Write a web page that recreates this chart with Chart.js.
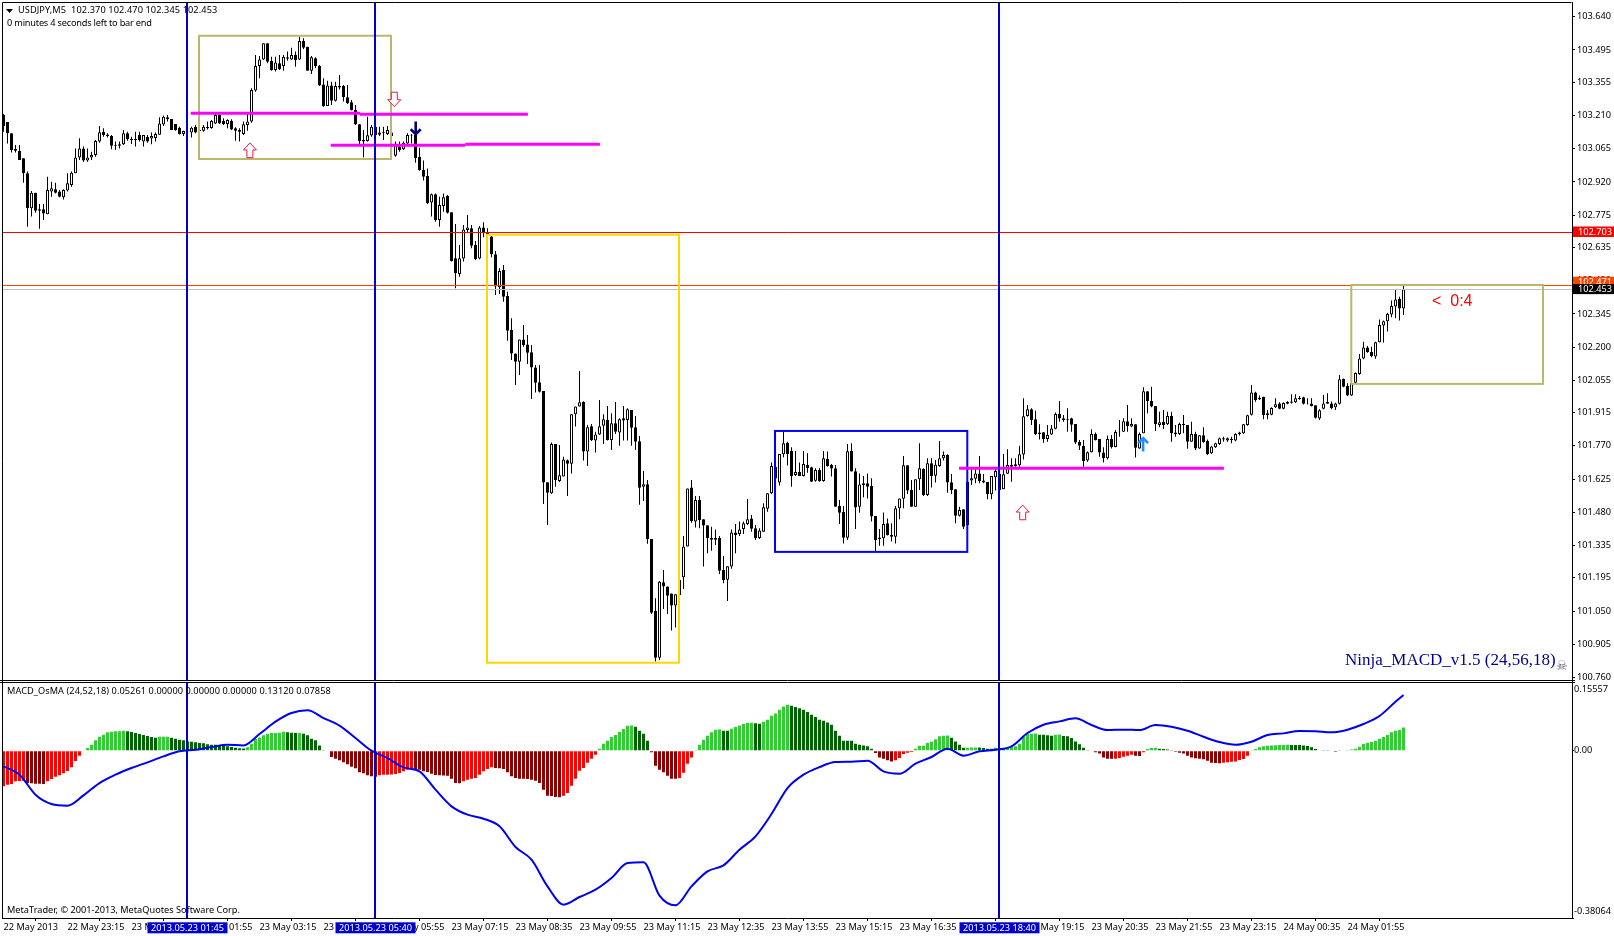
<!DOCTYPE html>
<html><head><meta charset="utf-8"><title>USDJPY,M5</title>
<script src="https://cdn.jsdelivr.net/npm/chart.js@4"></script>
<style>html,body{margin:0;padding:0;background:#fff}canvas{display:block}</style></head>
<body><canvas id="c" width="1614" height="936"></canvas>
<script>
const timeLabels=["22 May 2013","22 May 23:15","23 May 00:35","23 May 01:55","23 May 03:15","23 May 04:35","23 May 05:55","23 May 07:15","23 May 08:35","23 May 09:55","23 May 11:15","23 May 12:35","23 May 13:55","23 May 15:15","23 May 16:35","23 May 17:55","23 May 19:15","23 May 20:35","23 May 21:55","23 May 23:15","24 May 00:35","24 May 01:55"];
const priceTicks=[103.640,103.495,103.355,103.210,103.065,102.920,102.775,102.635,102.490,102.345,102.200,102.055,101.915,101.770,101.625,101.480,101.335,101.195,101.050,100.905,100.760];
const macdTicks=[0.15557,0,-0.38064];
const highs=[103.216,103.181,103.132,103.081,103.081,103.023,102.965,102.881,102.873,102.824,102.824,102.943,102.921,102.917,102.885,102.888,102.958,102.965,103.066,103.110,103.074,103.066,103.052,103.103,103.164,103.154,103.132,103.125,103.096,103.096,103.146,103.139,103.117,103.139,103.139,103.125,103.125,103.135,103.135,103.202,103.209,103.212,103.194,103.172,103.161,103.143,103.146,103.161,103.168,103.161,103.168,103.183,103.190,103.219,103.219,103.197,103.193,103.193,103.158,103.154,103.183,103.219,103.328,103.473,103.469,103.524,103.524,103.466,103.466,103.473,103.473,103.488,103.505,103.488,103.553,103.546,103.509,103.469,103.463,103.430,103.372,103.361,103.357,103.357,103.386,103.342,103.342,103.277,103.255,103.172,103.146,103.204,103.168,103.164,103.161,103.161,103.164,103.139,103.096,103.096,103.096,103.132,103.129,103.139,103.069,103.013,102.979,102.870,102.870,102.856,102.870,102.863,102.788,102.737,102.645,102.732,102.776,102.732,102.663,102.728,102.744,102.718,102.684,102.619,102.544,102.558,102.442,102.326,102.173,102.234,102.297,102.253,102.210,102.122,102.122,102.009,101.611,101.785,101.778,101.774,101.723,101.711,101.908,101.942,102.096,101.964,101.861,101.865,101.832,101.970,101.908,101.944,101.912,101.961,101.890,101.944,101.934,101.926,101.900,101.813,101.661,101.621,101.364,101.106,101.181,101.229,101.157,101.127,101.123,101.200,101.377,101.584,101.621,101.552,101.552,101.450,101.424,101.418,101.406,101.377,101.290,101.245,101.406,101.430,101.440,101.440,101.539,101.469,101.425,101.411,101.520,101.563,101.697,101.694,101.735,101.832,101.788,101.764,101.748,101.697,101.748,101.738,101.679,101.672,101.672,101.748,101.745,101.691,101.687,101.534,101.508,101.778,101.781,101.672,101.650,101.639,101.650,101.629,101.464,101.408,101.480,101.454,101.433,101.508,101.541,101.726,101.685,101.621,101.624,101.781,101.672,101.716,101.716,101.708,101.791,101.745,101.733,101.647,101.581,101.505,101.494,101.621,101.672,101.672,101.726,101.647,101.613,101.639,101.672,101.665,101.735,101.755,101.716,101.716,101.770,101.977,101.948,101.934,101.923,101.864,101.830,101.861,101.861,101.915,101.966,101.905,101.934,101.893,101.865,101.796,101.796,101.745,101.842,101.828,101.800,101.764,101.815,101.817,101.839,101.883,101.890,101.948,101.890,101.864,101.828,102.025,102.008,102.028,101.944,101.919,101.926,101.919,101.919,101.861,101.871,101.905,101.861,101.875,101.832,101.817,101.851,101.798,101.770,101.784,101.806,101.810,101.806,101.810,101.825,101.832,101.865,101.906,102.035,102.006,101.989,101.984,101.926,101.938,101.977,101.960,101.960,101.964,101.995,101.995,101.987,101.984,101.977,101.977,101.947,101.929,101.992,101.999,101.963,101.958,102.079,102.064,102.043,102.045,102.090,102.170,102.224,102.205,102.202,102.224,102.321,102.316,102.350,102.403,102.452,102.420,102.467];
const lows=[103.139,103.088,103.048,103.048,103.016,102.917,102.725,102.769,102.786,102.716,102.754,102.779,102.856,102.870,102.853,102.844,102.878,102.899,102.958,103.016,103.008,103.008,103.016,103.030,103.091,103.117,103.114,103.062,103.059,103.066,103.081,103.100,103.085,103.074,103.096,103.074,103.091,103.084,103.096,103.126,103.164,103.183,103.146,103.143,103.127,103.120,103.117,103.114,103.132,103.132,103.139,103.149,103.152,103.172,103.172,103.168,103.154,103.146,103.100,103.096,103.125,103.143,103.178,103.313,103.372,103.451,103.437,103.405,103.401,103.408,103.405,103.448,103.451,103.422,103.451,103.498,103.405,103.390,103.415,103.338,103.248,103.251,103.255,103.270,103.323,103.270,103.260,103.231,103.168,103.085,103.027,103.096,103.117,103.120,103.120,103.103,103.125,103.059,103.030,103.052,103.059,103.085,103.088,103.004,102.969,102.926,102.824,102.769,102.747,102.725,102.790,102.783,102.573,102.457,102.507,102.573,102.696,102.631,102.580,102.583,102.679,102.689,102.592,102.427,102.432,102.398,102.228,102.144,102.035,102.079,102.202,102.127,101.974,102.003,102.003,101.517,101.425,101.560,101.592,101.613,101.636,101.552,101.650,101.854,101.941,101.706,101.682,101.791,101.741,101.817,101.778,101.793,101.752,101.822,101.770,101.793,101.793,101.770,101.752,101.513,101.530,101.343,101.037,100.830,100.837,101.059,101.037,100.965,100.979,101.120,101.146,101.331,101.435,101.414,101.411,101.244,101.302,101.313,101.338,101.212,101.171,101.094,101.234,101.302,101.377,101.386,101.425,101.396,101.360,101.364,101.396,101.483,101.560,101.600,101.597,101.720,101.684,101.592,101.639,101.639,101.636,101.653,101.614,101.614,101.614,101.614,101.679,101.636,101.505,101.430,101.345,101.360,101.658,101.408,101.479,101.546,101.541,101.440,101.309,101.335,101.335,101.379,101.353,101.345,101.450,101.498,101.560,101.505,101.505,101.578,101.552,101.552,101.589,101.610,101.679,101.706,101.566,101.560,101.433,101.462,101.408,101.422,101.600,101.607,101.607,101.607,101.537,101.537,101.575,101.571,101.581,101.649,101.614,101.679,101.679,101.711,101.897,101.861,101.817,101.798,101.784,101.788,101.817,101.842,101.875,101.875,101.832,101.832,101.778,101.752,101.679,101.701,101.741,101.793,101.723,101.697,101.711,101.759,101.764,101.810,101.830,101.832,101.851,101.719,101.757,101.825,101.912,101.938,101.835,101.851,101.843,101.861,101.788,101.810,101.817,101.825,101.757,101.788,101.752,101.757,101.784,101.730,101.735,101.761,101.774,101.788,101.788,101.781,101.790,101.815,101.822,101.858,101.902,101.962,101.970,101.886,101.886,101.903,101.935,101.929,101.929,101.951,101.955,101.957,101.971,101.950,101.950,101.941,101.889,101.883,101.929,101.953,101.929,101.926,101.950,102.025,101.987,101.987,102.043,102.080,102.147,102.176,102.156,102.150,102.220,102.220,102.268,102.330,102.326,102.316,102.340];
const opens=[103.212,103.181,103.132,103.064,103.056,103.023,102.958,102.805,102.873,102.801,102.801,102.779,102.878,102.888,102.878,102.853,102.883,102.907,102.958,103.027,103.066,103.013,103.027,103.037,103.096,103.139,103.127,103.120,103.081,103.084,103.084,103.132,103.107,103.103,103.126,103.096,103.117,103.109,103.111,103.126,103.170,103.202,103.194,103.172,103.156,103.129,103.139,103.135,103.159,103.146,103.143,103.154,103.155,103.175,103.212,103.187,103.172,103.187,103.154,103.146,103.129,103.168,103.183,103.318,103.425,103.454,103.524,103.447,103.408,103.437,103.425,103.463,103.454,103.473,103.454,103.534,103.509,103.405,103.459,103.425,103.345,103.251,103.340,103.274,103.338,103.338,103.289,103.267,103.233,103.171,103.103,103.098,103.122,103.161,103.126,103.136,103.129,103.135,103.034,103.074,103.062,103.088,103.125,103.125,103.030,102.972,102.946,102.830,102.866,102.754,102.815,102.859,102.788,102.587,102.519,102.586,102.711,102.718,102.645,102.586,102.722,102.699,102.682,102.605,102.461,102.536,102.423,102.275,102.173,102.137,102.234,102.212,102.178,102.112,102.047,102.009,101.611,101.563,101.778,101.617,101.636,101.707,101.692,101.908,101.941,101.961,101.745,101.855,101.793,101.820,101.858,101.883,101.796,101.868,101.828,101.890,101.883,101.926,101.851,101.790,101.592,101.603,101.364,101.051,100.847,101.176,101.157,101.127,101.074,101.120,101.197,101.331,101.589,101.440,101.534,101.450,101.424,101.369,101.369,101.369,101.229,101.187,101.244,101.393,101.386,101.408,101.430,101.454,101.411,101.369,101.396,101.496,101.563,101.679,101.610,101.733,101.784,101.748,101.643,101.656,101.639,101.687,101.677,101.618,101.665,101.617,101.713,101.687,101.672,101.508,101.482,101.370,101.748,101.659,101.505,101.607,101.607,101.595,101.464,101.364,101.367,101.433,101.382,101.374,101.498,101.540,101.685,101.578,101.505,101.624,101.669,101.556,101.694,101.640,101.682,101.716,101.730,101.611,101.581,101.465,101.494,101.614,101.619,101.627,101.650,101.619,101.613,101.559,101.633,101.578,101.581,101.649,101.687,101.690,101.685,101.732,101.900,101.929,101.886,101.828,101.829,101.800,101.819,101.845,101.909,101.890,101.887,101.890,101.865,101.787,101.770,101.706,101.742,101.822,101.800,101.741,101.716,101.800,101.765,101.829,101.832,101.877,101.854,101.864,101.759,101.825,102.008,101.965,101.944,101.861,101.875,101.864,101.900,101.828,101.822,101.865,101.861,101.788,101.822,101.758,101.816,101.791,101.738,101.764,101.778,101.803,101.793,101.800,101.793,101.828,101.825,101.861,101.906,102.003,101.980,101.984,101.912,101.906,101.938,101.955,101.932,101.954,101.958,101.960,101.980,101.982,101.955,101.955,101.947,101.889,101.932,101.961,101.955,101.938,101.953,102.061,102.031,101.989,102.045,102.083,102.151,102.199,102.179,102.159,102.221,102.295,102.313,102.342,102.377,102.410,102.369];
const closes=[103.164,103.132,103.059,103.056,103.016,102.958,102.805,102.873,102.795,102.795,102.783,102.885,102.892,102.873,102.856,102.885,102.914,102.960,103.027,103.066,103.013,103.027,103.037,103.098,103.136,103.125,103.120,103.078,103.078,103.078,103.132,103.106,103.103,103.107,103.103,103.125,103.096,103.120,103.129,103.175,103.204,103.193,103.146,103.146,103.129,103.142,103.136,103.156,103.135,103.142,103.161,103.159,103.186,103.212,103.175,103.172,103.190,103.149,103.143,103.139,103.171,103.183,103.321,103.425,103.454,103.524,103.444,103.408,103.440,103.411,103.466,103.457,103.473,103.451,103.534,103.505,103.405,103.463,103.425,103.340,103.251,103.340,103.274,103.338,103.332,103.289,103.263,103.233,103.171,103.098,103.096,103.123,103.161,103.125,103.135,103.132,103.146,103.120,103.081,103.059,103.091,103.125,103.122,103.023,102.972,102.943,102.827,102.866,102.754,102.820,102.853,102.786,102.576,102.522,102.587,102.713,102.722,102.642,102.583,102.722,102.696,102.689,102.605,102.464,102.532,102.420,102.272,102.173,102.137,102.234,102.210,102.176,102.111,102.045,102.006,101.610,101.566,101.778,101.621,101.642,101.711,101.692,101.908,101.942,101.960,101.745,101.851,101.796,101.820,101.855,101.886,101.796,101.868,101.832,101.886,101.881,101.929,101.849,101.788,101.588,101.603,101.364,101.043,100.847,101.178,101.157,101.117,101.074,101.123,101.186,101.331,101.584,101.443,101.534,101.447,101.423,101.369,101.361,101.361,101.226,101.186,101.245,101.393,101.382,101.406,101.433,101.450,101.409,101.369,101.401,101.502,101.563,101.682,101.628,101.735,101.781,101.733,101.639,101.656,101.639,101.691,101.672,101.614,101.665,101.617,101.716,101.682,101.671,101.505,101.479,101.370,101.746,101.658,101.501,101.602,101.600,101.592,101.462,101.360,101.371,101.430,101.382,101.374,101.498,101.541,101.685,101.575,101.505,101.624,101.672,101.556,101.694,101.639,101.688,101.716,101.730,101.610,101.578,101.465,101.491,101.418,101.425,101.629,101.650,101.617,101.610,101.560,101.639,101.661,101.648,101.646,101.687,101.679,101.682,101.733,101.899,101.929,101.883,101.822,101.822,101.800,101.817,101.846,101.909,101.889,101.883,101.884,101.862,101.785,101.770,101.704,101.742,101.822,101.796,101.741,101.716,101.800,101.764,101.830,101.832,101.877,101.857,101.865,101.762,101.822,102.008,101.965,101.941,101.864,101.873,101.861,101.900,101.825,101.822,101.865,101.861,101.788,101.822,101.759,101.816,101.787,101.735,101.767,101.781,101.803,101.798,101.803,101.796,101.822,101.822,101.864,101.903,102.003,101.970,101.973,101.905,101.903,101.935,101.951,101.932,101.957,101.961,101.963,101.977,101.974,101.953,101.953,101.944,101.892,101.925,101.955,101.954,101.935,101.955,102.060,102.028,101.989,102.043,102.088,102.151,102.199,102.179,102.162,102.221,102.297,102.313,102.345,102.379,102.408,102.369,102.452];
const macdHist=[-0.0811,-0.0773,-0.0758,-0.0698,-0.0690,-0.0685,-0.0735,-0.0743,-0.0751,-0.0754,-0.0757,-0.0698,-0.0644,-0.0592,-0.0561,-0.0515,-0.0462,-0.0379,-0.0235,-0.0114,0.0008,0.0061,0.0136,0.0235,0.0318,0.0364,0.0417,0.0432,0.0440,0.0441,0.0455,0.0440,0.0424,0.0402,0.0379,0.0356,0.0333,0.0311,0.0296,0.0318,0.0319,0.0320,0.0296,0.0273,0.0250,0.0235,0.0212,0.0205,0.0190,0.0174,0.0167,0.0144,0.0136,0.0135,0.0121,0.0114,0.0099,0.0083,0.0068,0.0053,0.0052,0.0076,0.0159,0.0265,0.0303,0.0349,0.0379,0.0402,0.0403,0.0409,0.0432,0.0417,0.0409,0.0402,0.0402,0.0387,0.0349,0.0273,0.0235,0.0121,0.0015,-0.0015,-0.0144,-0.0182,-0.0220,-0.0265,-0.0311,-0.0364,-0.0402,-0.0493,-0.0515,-0.0561,-0.0584,-0.0590,-0.0561,-0.0546,-0.0545,-0.0544,-0.0531,-0.0508,-0.0470,-0.0432,-0.0409,-0.0417,-0.0432,-0.0470,-0.0485,-0.0523,-0.0553,-0.0561,-0.0565,-0.0569,-0.0637,-0.0735,-0.0743,-0.0697,-0.0659,-0.0637,-0.0622,-0.0546,-0.0470,-0.0417,-0.0379,-0.0394,-0.0398,-0.0417,-0.0493,-0.0584,-0.0622,-0.0637,-0.0640,-0.0644,-0.0659,-0.0682,-0.0735,-0.0887,-0.1023,-0.1031,-0.1054,-0.1061,-0.1023,-0.0963,-0.0796,-0.0637,-0.0455,-0.0394,-0.0273,-0.0182,-0.0091,0.0045,0.0159,0.0227,0.0311,0.0356,0.0424,0.0493,0.0569,0.0572,0.0546,0.0455,0.0387,0.0227,-0.0038,-0.0341,-0.0432,-0.0493,-0.0569,-0.0637,-0.0640,-0.0622,-0.0500,-0.0296,-0.0152,0.0015,0.0136,0.0250,0.0341,0.0417,0.0478,0.0481,0.0455,0.0451,0.0500,0.0538,0.0576,0.0607,0.0629,0.0637,0.0622,0.0614,0.0660,0.0705,0.0796,0.0849,0.0932,0.1008,0.1046,0.1023,0.0993,0.0963,0.0932,0.0879,0.0819,0.0766,0.0705,0.0682,0.0644,0.0591,0.0455,0.0341,0.0228,0.0227,0.0226,0.0159,0.0136,0.0121,0.0099,0.0045,-0.0053,-0.0152,-0.0182,-0.0220,-0.0243,-0.0220,-0.0167,-0.0076,-0.0045,-0.0030,0.0045,0.0114,0.0115,0.0174,0.0205,0.0258,0.0326,0.0341,0.0343,0.0296,0.0212,0.0136,0.0068,0.0069,0.0070,0.0071,0.0070,0.0061,0.0046,0.0045,0.0068,0.0046,0.0045,0.0061,0.0091,0.0099,0.0159,0.0326,0.0387,0.0388,0.0394,0.0364,0.0360,0.0349,0.0341,0.0364,0.0371,0.0334,0.0326,0.0288,0.0212,0.0144,0.0068,0.0004,-0.0015,-0.0038,-0.0061,-0.0152,-0.0182,-0.0186,-0.0182,-0.0167,-0.0136,-0.0114,-0.0091,-0.0114,-0.0118,-0.0038,0.0038,0.0061,0.0068,0.0046,0.0038,0.0030,0.0004,-0.0023,-0.0046,-0.0061,-0.0114,-0.0152,-0.0174,-0.0182,-0.0197,-0.0227,-0.0273,-0.0281,-0.0284,-0.0277,-0.0265,-0.0250,-0.0246,-0.0212,-0.0190,-0.0114,0.0015,0.0038,0.0076,0.0099,0.0114,0.0121,0.0125,0.0129,0.0131,0.0133,0.0132,0.0131,0.0130,0.0121,0.0106,0.0076,0.0038,0.0008,0.0007,0.0004,-0.0015,-0.0023,0.0004,0.0008,0.0015,0.0030,0.0046,0.0091,0.0152,0.0182,0.0197,0.0227,0.0273,0.0311,0.0356,0.0417,0.0455,0.0470,0.0526];
const macdLine=[-0.0356,-0.0546,-0.1001,-0.1213,-0.1251,-0.1016,-0.0736,-0.0546,-0.0394,-0.0265,-0.0129,-0.0015,0.0023,0.0083,0.0136,0.0121,0.0379,0.0660,0.0857,0.0918,0.0743,0.0569,0.0288,0,-0.0167,-0.0379,-0.0470,-0.0887,-0.1266,-0.1456,-0.1547,-0.1721,-0.2191,-0.2480,-0.3086,-0.3503,-0.3329,-0.3162,-0.2897,-0.2555,-0.2540,-0.3298,-0.3518,-0.3086,-0.2745,-0.2608,-0.2252,-0.1949,-0.1441,-0.0849,-0.0546,-0.0372,-0.0258,-0.0250,-0.0227,-0.0470,-0.0523,-0.0296,-0.0144,0.0045,-0.0114,-0.0015,0.0023,0.0099,0.0402,0.0591,0.0667,0.0736,0.0584,0.0470,0.0478,0.0470,0.0584,0.0546,0.0455,0.0318,0.0197,0.0136,0.0205,0.0356,0.0394,0.0447,0.0440,0.0417,0.0478,0.0607,0.0789,0.1115,0.1266];
const timeMarkBars=[46,93,249];
const timeMarkTexts=["2013.05.23 01:45","2013.05.23 05:40","2013.05.23 18:40"];
const COL={up:'#ffffff',down:'#000000',lime:'#32CD32',dgreen:'#006400',red:'#FF0000',dred:'#8B0000',blue:'#0000CD',line:'#0000F0',khaki:'#BDB76B',gold:'#FFD700',box:'#0000FF',mag:'#FF00FF',arrow:'#E6194B',navy:'#000080',dodger:'#1E90FF'};
const FONT='"Noto Sans"';
const FS=9.2;
const bars=highs.map((_,i)=>i);
const histColors=macdHist.map((v,i)=>{const p=i?macdHist[i-1]:-1;return v>=0?(v>=p?COL.lime:COL.dgreen):(v>p?COL.red:COL.dred);});
const lastBar=bars[bars.length-1];
const linePts=macdLine.map((y,k)=>({x:Math.min(k*4,lastBar),y}));
const noPad=s=>{s.paddingTop=0;s.paddingBottom=0;s.paddingLeft=0;s.paddingRight=0;};

const annotate={id:'annotate',afterDatasetsDraw(ch){
  const c=ch.ctx,X=v=>ch.scales.x.getPixelForValue(v),Y=v=>ch.scales.price.getPixelForValue(v),a=ch.chartArea;
  c.save();
  const hl=(p,col,w)=>{c.strokeStyle=col;c.lineWidth=w;c.beginPath();c.moveTo(a.left,Math.round(Y(p))+.5);c.lineTo(a.right,Math.round(Y(p))+.5);c.stroke();};
  hl(102.453,'#C0C0C0',1);hl(102.471,'#FF4500',1);hl(102.703,'#FF0000',1);
  const box=(b0,b1,p1,p0,col)=>{c.strokeStyle=col;c.lineWidth=2;c.strokeRect(X(b0),Y(p1),X(b1)-X(b0),Y(p0)-Y(p1));};
  box(48.875,96.875,103.557,103.020,COL.khaki);
  box(120.875,168.875,102.690,100.825,COL.gold);
  box(192.875,240.95,101.835,101.308,COL.box);
  box(336.95,384.875,102.471,102.040,COL.khaki);
  const seg=(b0,b1,p)=>{c.strokeStyle=COL.mag;c.lineWidth=3;c.beginPath();c.moveTo(X(b0),Y(p));c.lineTo(X(b1),Y(p));c.stroke();};
  seg(46.8,89.125,103.219);seg(89.125,131.1,103.215);seg(81.8,115.45,103.080);seg(115.45,149.1,103.084);seg(238.875,305.1,101.672);
  const hollow=(b,base,tip)=>{const x=X(b),y0=Y(base),y1=Y(tip),d=y0>y1?1:-1,hh=7*d;c.fillStyle='#fff';c.strokeStyle=COL.arrow;c.lineWidth=1;c.beginPath();c.moveTo(x-3,y0);c.lineTo(x-3,y1+hh);c.lineTo(x-6.5,y1+hh);c.lineTo(x,y1);c.lineTo(x+6.5,y1+hh);c.lineTo(x+3,y1+hh);c.lineTo(x+3,y0);c.closePath();c.fill();c.stroke();};
  hollow(61.6,103.026,103.090);hollow(97.7,103.311,103.248);hollow(254.8,101.448,101.512);
  const solid=(b,base,tip,col)=>{const x=X(b),y0=Y(base),y1=Y(tip);c.strokeStyle=col;c.lineWidth=2.6;c.beginPath();c.moveTo(x,y0);c.lineTo(x,y1);c.moveTo(x-5,y1+(y0>y1?5:-5));c.lineTo(x,y1);c.lineTo(x+5,y1+(y0>y1?5:-5));c.stroke();};
  solid(103.05,103.183,103.128,COL.navy);solid(284.9,101.745,101.804,COL.dodger);
  c.strokeStyle=COL.blue;c.lineWidth=2;
  timeMarkBars.forEach(b=>{c.beginPath();c.moveTo(X(b)-.5,a.top);c.lineTo(X(b)-.5,a.bottom);c.stroke();});
  c.restore();
},afterDraw(ch){
  const c=ch.ctx,X=v=>ch.scales.x.getPixelForValue(v),Y=v=>ch.scales.price.getPixelForValue(v),a=ch.chartArea;
  c.save();
  c.strokeStyle='#000';c.lineWidth=1;
  c.beginPath();c.moveTo(2.5,a.bottom);c.lineTo(2.5,a.top);c.lineTo(1571.5,a.top);c.stroke();
  c.fillStyle='#fff';c.fillRect(3,680.9,1568.5,1.1);
  c.strokeStyle='#000';c.beginPath();c.moveTo(0,680.5);c.lineTo(1575,680.5);c.moveTo(0,682.5);c.lineTo(1575,682.5);c.stroke();
  c.fillStyle='#000';c.beginPath();c.moveTo(6,9);c.lineTo(13,9);c.lineTo(9.5,13);c.fill();
  c.textBaseline='middle';c.textAlign='left';
  c.font=FS+'px '+FONT;c.fillStyle='#000';
  c.letterSpacing='0.1px';c.fillText('USDJPY,M5  102.370 102.470 102.345 102.453',18,10.5);
  c.letterSpacing='-0.2px';c.fillText('0 minutes 4 seconds left to bar end',7,23.5);
  c.letterSpacing='0.07px';c.fillText('MACD_OsMA (24,52,18) 0.05261 0.00000 0.00000 0.00000 0.13120 0.07858',7,691.5);
  c.letterSpacing='0px';c.fillText('MetaTrader, © 2001-2013, MetaQuotes Software Corp.',7,910.5);
  c.font='16px "Liberation Sans"';c.fillStyle='#FF0000';c.fillText('<  0:4',1432,302);
  c.font='17px "Liberation Serif"';c.fillStyle='#00008B';c.fillText('Ninja_MACD_v1.5 (24,56,18)',1345,660.5);
  c.font='13px "DejaVu Sans"';c.fillStyle='#666';c.fillText('☠',1556,667);
  c.font=FS+'px '+FONT;
  const flag=(p,bg,txt,fg,h)=>{const y=Y(p);c.fillStyle=bg;c.fillRect(1573,y-h/2,41,h);c.fillStyle=fg;c.fillText(txt,1578,y+.5);};
  flag(102.703,'#FF0000','102.703','#fff',10.5);
  flag(102.483,'#FF4500','102.471','#fff',11);
  flag(102.453,'#000000','102.453','#fff',10);
  c.textAlign='center';
  timeMarkBars.forEach((b,i)=>{const x=X(b);c.fillStyle=COL.blue;c.fillRect(x-40,922.3,80,11);c.fillStyle='#fff';c.fillText(timeMarkTexts[i],x,928);});
  c.restore();
}};

new Chart(document.getElementById('c'),{
  data:{datasets:[
    {type:'line',label:'MACD',yAxisID:'macd',data:linePts,borderColor:COL.line,borderWidth:2,pointRadius:0,cubicInterpolationMode:'monotone',order:1},
    {type:'bar',label:'OsMA',yAxisID:'macd',data:bars.map(i=>({x:i,y:macdHist[i]})),backgroundColor:histColors,grouped:false,barPercentage:.75,categoryPercentage:1,inflateAmount:0,order:2},
    {type:'bar',label:'Body',yAxisID:'price',data:bars.map(i=>({x:i,y:[opens[i],closes[i]]})),backgroundColor:bars.map(i=>closes[i]>=opens[i]?COL.up:COL.down),borderColor:'#000',borderWidth:1,borderSkipped:false,grouped:false,barPercentage:.75,categoryPercentage:1,inflateAmount:0,order:3},
    {type:'bar',label:'Wick',yAxisID:'price',data:bars.map(i=>({x:i,y:[lows[i],highs[i]]})),backgroundColor:'#000',grouped:false,barPercentage:.25,categoryPercentage:1,inflateAmount:0,order:4}
  ]},
  options:{responsive:false,animation:false,events:[],
    layout:{padding:{top:2.5,left:2.5,right:0,bottom:0}},
    plugins:{legend:{display:false},tooltip:{enabled:false},title:{display:false}},
    scales:{
      x:{type:'linear',offset:false,min:-0.25,max:392.125,position:'bottom',
        afterBuildTicks(s){s.ticks=timeLabels.map((_,k)=>({value:k*16}));},
        afterFit(s){s.height=18;noPad(s);},
        grid:{drawOnChartArea:false,tickLength:3,color:'#000'},border:{color:'#000'},
        ticks:{autoSkip:false,maxRotation:0,align:'start',padding:1,color:'#000',font:{family:'Noto Sans',size:FS},callback:(v)=>timeLabels[v/16]||''}},
      price:{type:'linear',position:'right',stack:'panels',stackWeight:678,min:100.7476,max:103.7019,
        afterBuildTicks(s){s.ticks=priceTicks.map(v=>({value:v}));},
        afterFit(s){s.width=42;noPad(s);},
        grid:{drawOnChartArea:false,tickLength:3,color:'#000'},border:{color:'#000'},
        ticks:{autoSkip:false,padding:2,color:'#000',font:{family:'Noto Sans',size:FS},callback:v=>v.toFixed(3)}},
      macd:{type:'linear',position:'right',stack:'panels',stackWeight:237.5,min:-0.38064,max:0.1597,
        afterBuildTicks(s){s.ticks=macdTicks.map(v=>({value:v}));},
        afterFit(s){s.width=42;noPad(s);},
        grid:{drawOnChartArea:false,tickLength:2,color:'#000'},border:{color:'#000'},
        ticks:{autoSkip:false,padding:0,color:'#000',font:{family:'Noto Sans',size:FS,lineHeight:1.5},
          callback:v=>v===0?'0.00':(v>0?['',v.toFixed(5)]:[v.toFixed(5),''])}}
    }},
  plugins:[annotate]
});
</script></body></html>
